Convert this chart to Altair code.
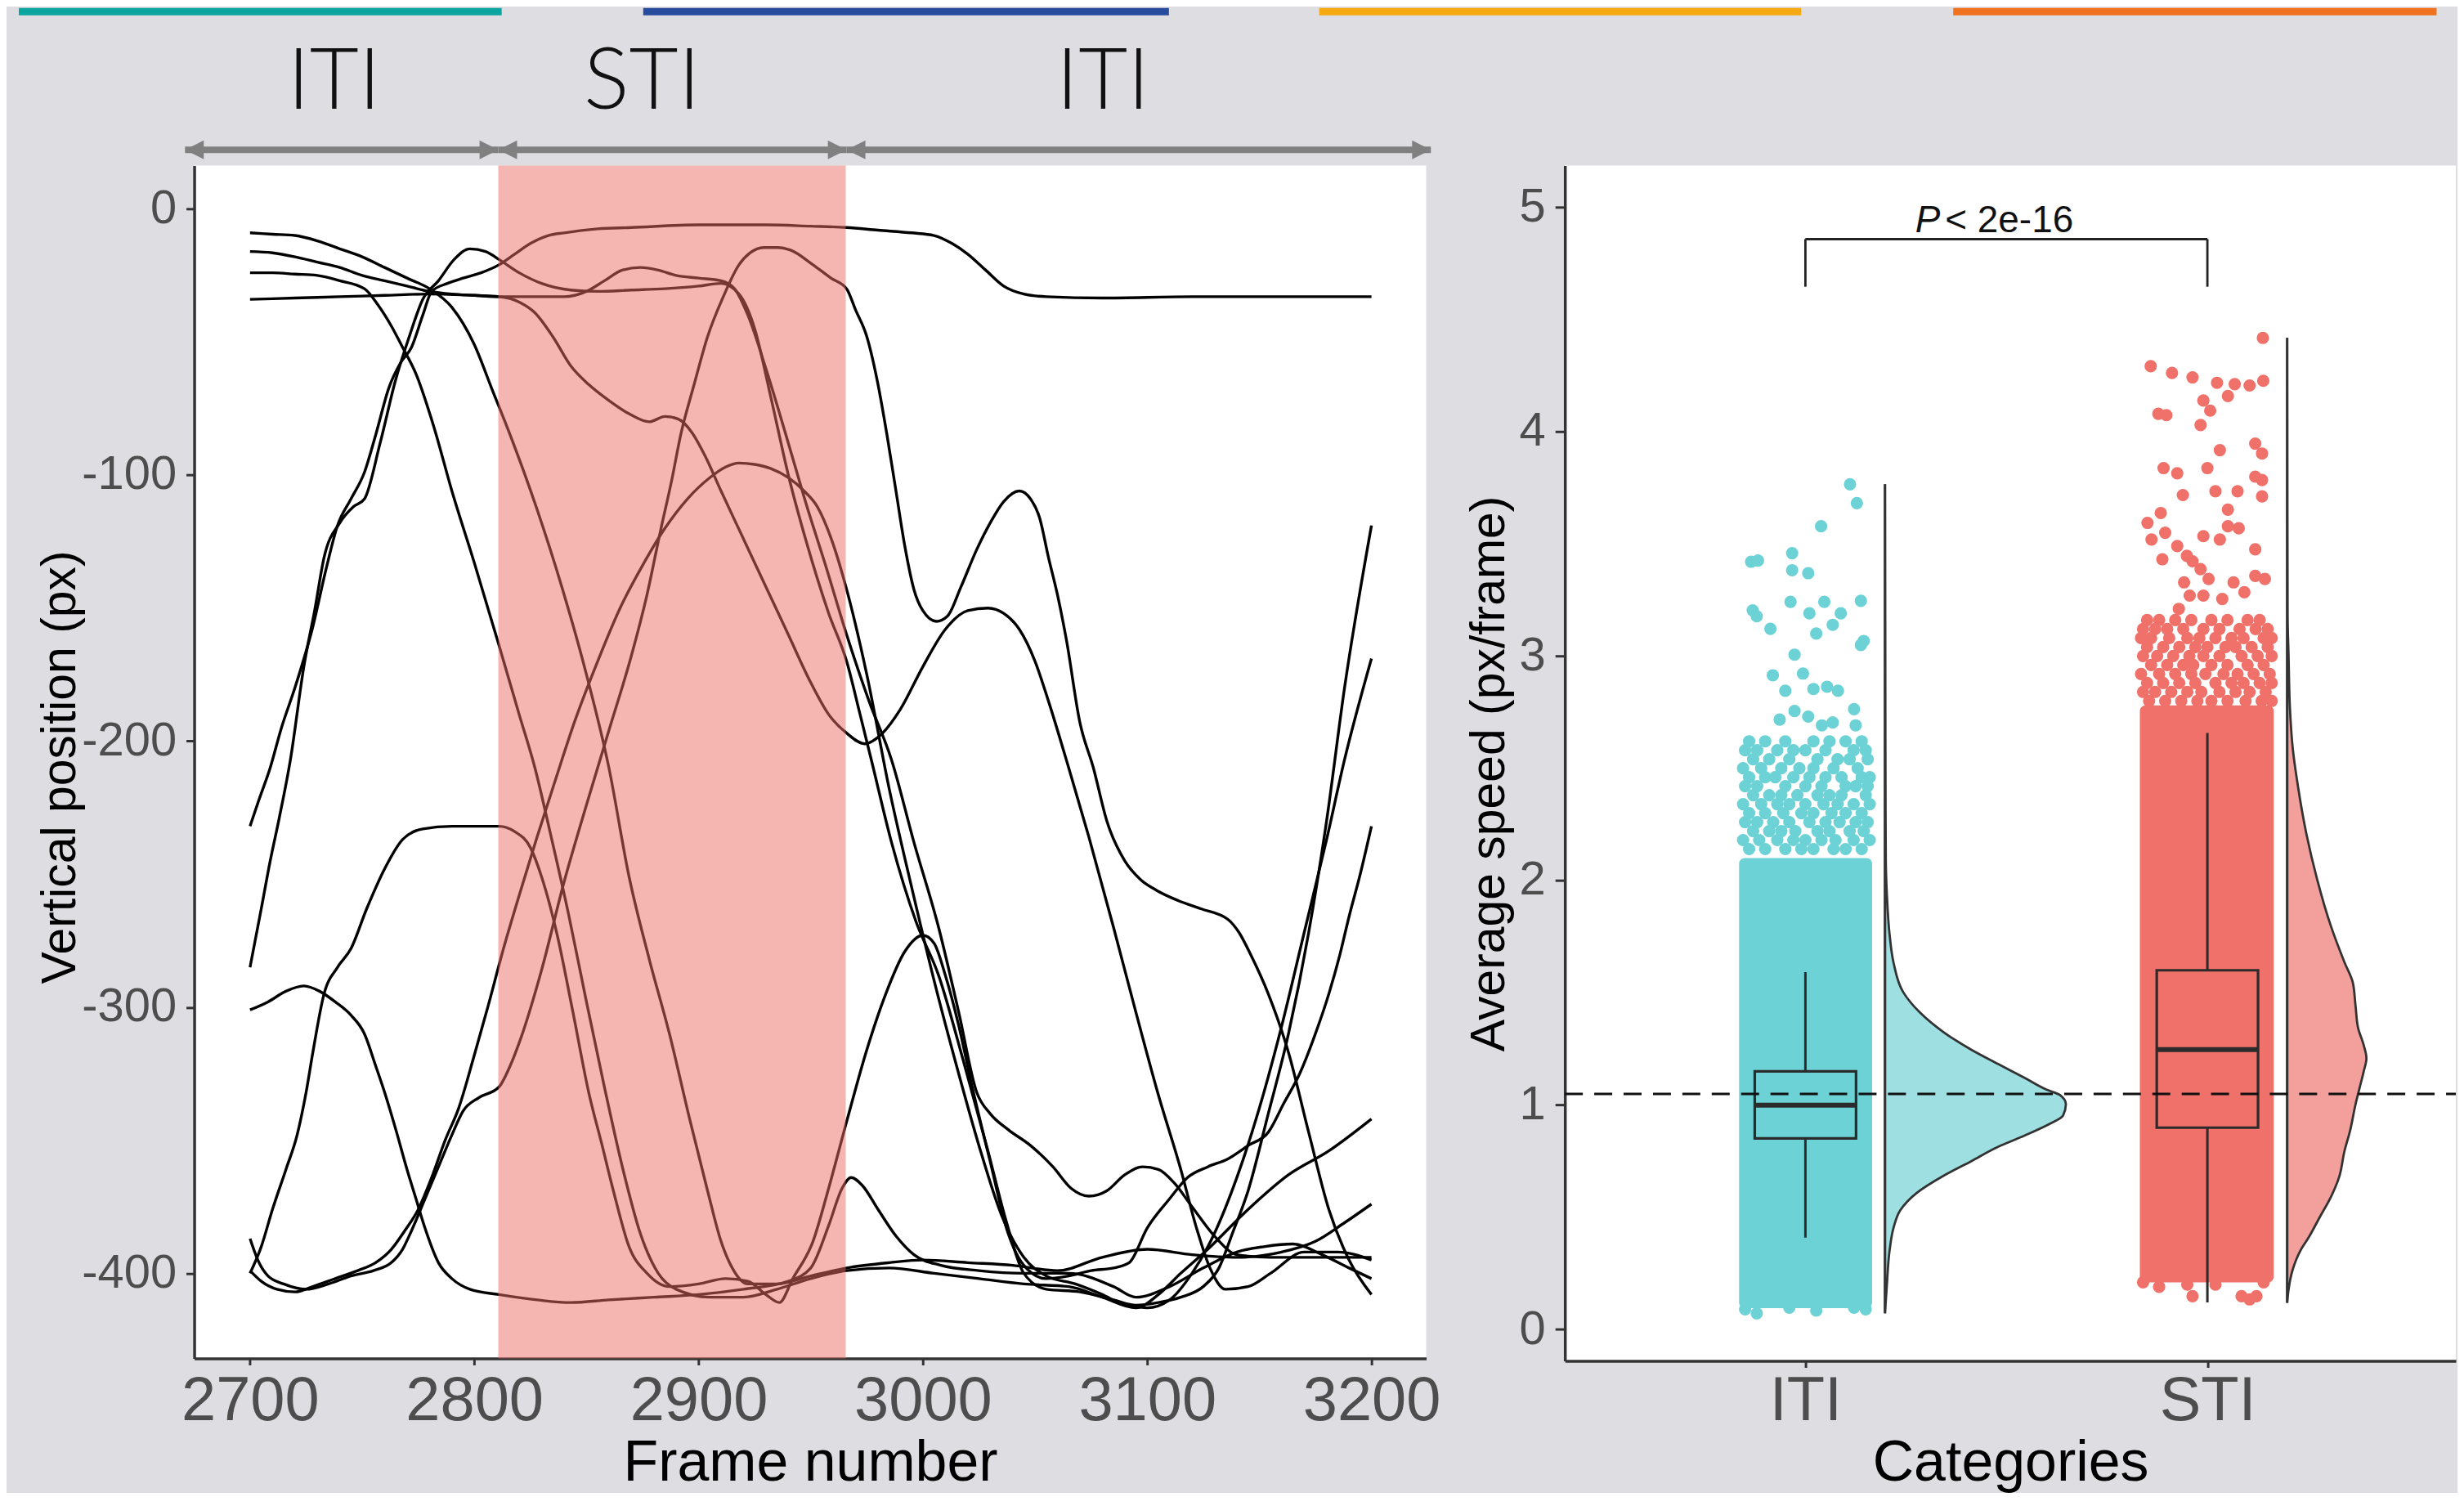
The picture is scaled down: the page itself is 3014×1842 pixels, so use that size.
import altair as alt
import pandas as pd

FONT = "Liberation Sans"
NARROW = "Liberation Sans Narrow, Liberation Sans"

# ---------------- Left panel: trajectories (frame, vertical position px) ----------------
TRAJ_A = [(2700,-9),(2710,-9.5),(2720,-10),(2730,-12),(2740,-15),(2750,-18),(2760,-22),(2770,-26),
          (2780,-30),(2790,-37),(2800,-51),(2808,-68),(2816,-85),(2828,-113),(2839,-142),(2850,-175),
          (2860,-210),(2869,-251),(2878,-282),(2887,-310),(2896,-342),(2904,-369),(2910,-388),(2915,-398),
          (2922,-404),(2935,-404),(2950,-401),(2966,-398),(2985,-396),(3000,-395),(3020,-396),(3040,-397),
          (3060,-399),(3080,-394),(3100,-391),(3120,-393),(3140,-394),(3160,-392),(3175,-388),(3188,-381),
          (3200,-374)]
TRAJ_B = [(2700,-16),(2710,-16.5),(2720,-18),(2730,-20),(2740,-22),(2750,-25),(2760,-27),(2770,-29),
          (2780,-31),(2790,-32),(2800,-32.5),(2811,-33),(2820,-35),(2827,-39),(2835,-48),(2843,-59),
          (2851,-66),(2860,-72),(2869,-77),(2878,-80),(2885,-78),(2891,-79),(2897,-84),(2903,-93),
          (2910,-106),(2920,-124),(2930,-142),(2940,-160),(2950,-178),(2958,-190),(2966,-197),(2974,-201),
          (2982,-197),(2990,-188),(3000,-172),(3010,-158),(3020,-151),(3029,-150),(3036,-152),(3043,-158),
          (3050,-170),(3056,-185),(3065,-210),(3074,-236),(3085,-270),(3095,-302),(3105,-333),(3115,-361),
          (3122,-383),(3128,-398),(3135,-406),(3145,-405),(3155,-400),(3170,-392),(3185,-392),(3200,-395)]
TRAJ_C = [(2700,-24),(2710,-24),(2720,-24.5),(2730,-25),(2740,-27),(2751,-30),(2757,-36),(2763,-44),
          (2768,-52),(2774,-62),(2782,-82),(2790,-106),(2800,-133),(2811,-164),(2820,-190),(2827,-210),
          (2834,-235),(2842,-265),(2850,-298),(2858,-330),(2866,-360),(2874,-385),(2882,-400),(2890,-406),
          (2905,-409),(2920,-409),(2935,-406),(2950,-402),(2966,-399),(2985,-398),(3005,-400),(3025,-402),
          (3045,-404),(3065,-405),(3080,-409),(3095,-413),(3105,-408),(3115,-400),(3127,-391),(3145,-376),
          (3163,-363),(3181,-354),(3200,-342)]
TRAJ_D = [(2700,-34),(2720,-33.5),(2740,-33),(2760,-32.5),(2780,-32),(2800,-32.5),(2811,-33),(2825,-33),
          (2840,-33),(2850,-31),(2858,-27),(2866,-23),(2874,-22),(2882,-23),(2890,-25),(2900,-26),
          (2910,-27),(2916,-30),(2922,-40),(2930,-60),(2940,-88),(2948,-111),(2957,-135),(2966,-160),
          (2976,-185),(2986,-207),(2996,-238),(3007,-270),(3016,-302),(3024,-332),(3030,-340),(3038,-346),
          (3048,-352),(3058,-360),(3066,-368),(3074,-371),(3082,-369),(3090,-363),(3098,-360),(3105,-361),
          (3112,-366),(3120,-375),(3130,-386),(3140,-393),(3155,-394),(3170,-394),(3185,-394),(3200,-394)]
TRAJ_E = [(2700,-232),(2704,-222),(2709,-210),(2714,-195),(2720,-180),(2728,-157),(2734,-135),(2739,-119),
          (2745,-109),(2751,-99),(2756,-85),(2762,-67),(2767,-58),(2772,-52),(2777,-40),(2781,-31),
          (2788,-28),(2795,-26),(2803,-24),(2811,-21),(2818,-17),(2825,-13),(2833,-10),(2840,-9),
          (2855,-7.5),(2870,-7),(2900,-6),(2930,-6),(2950,-6.5),(2966,-7),(2980,-8),(2995,-9),(3005,-10),
          (3013,-13),(3020,-17),(3028,-23),(3036,-29),(3045,-32),(3055,-33),(3080,-33.5),(3120,-33),
          (3160,-33),(3200,-33)]
TRAJ_F = [(2700,-285),(2705,-263),(2709,-245),(2713,-229),(2718,-207),(2724,-172),(2729,-150),(2733,-131),
          (2740,-118),(2746,-112),(2751,-109),(2758,-88),(2765,-64),(2771,-48),(2777,-34),(2784,-27),
          (2791,-19),(2798,-15),(2805,-16),(2811,-19),(2820,-24),(2830,-28),(2843,-30.5),(2855,-31),
          (2870,-30.5),(2885,-30),(2900,-29),(2910,-28),(2918,-32),(2925,-45),(2932,-70),(2940,-100),
          (2948,-125),(2958,-152),(2966,-170),(2972,-190),(2977,-207),(2986,-238),(2997,-268),(3007,-288),
          (3018,-320),(3029,-354),(3037,-380),(3045,-400),(3055,-406),(3070,-407),(3085,-410),(3095,-412),
          (3105,-411),(3115,-409),(3125,-405),(3132,-398),(3138,-385),(3145,-369),(3154,-340),(3163,-310),
          (3172,-272),(3180,-230),(3188,-180),(3200,-119)]
TRAJ_G = [(2700,-301),(2708,-298),(2716,-294),(2724,-292),(2731,-294),(2738,-298),(2745,-303),(2751,-310),
          (2756,-322),(2760,-332),(2765,-346),(2770,-361),(2774,-372),(2778,-383),(2784,-396),(2790,-402),
          (2798,-406),(2811,-408),(2828,-410),(2843,-411),(2860,-410),(2880,-409),(2900,-408),(2920,-406),
          (2940,-403),(2950,-398),(2958,-382),(2964,-368),(2968,-364),(2973,-367),(2980,-376),(2988,-386),
          (2996,-393),(3008,-397),(3025,-399),(3045,-400),(3065,-400),(3085,-405),(3095,-409),(3110,-405),
          (3125,-398),(3140,-392),(3152,-390),(3165,-389),(3178,-393),(3190,-398),(3200,-402)]
TRAJ_H = [(2700,-387),(2704,-396),(2708,-401),(2715,-404),(2725,-406),(2735,-404),(2745,-401),(2755,-399),
          (2763,-396),(2768,-391),(2772,-384),(2778,-372),(2785,-358),(2790,-348),(2795,-339),(2802,-334),
          (2811,-330),(2816,-322),(2821,-311),(2830,-286),(2840,-253),(2850,-224),(2860,-196),(2870,-168),
          (2877,-145),(2883,-121),(2888,-102),(2892,-85),(2898,-66),(2904,-48),(2911,-33),(2918,-21),
          (2923,-16.5),(2929,-14.5),(2935,-14.5),(2941,-15.5),(2951,-21),(2959,-26),(2966,-30),(2970,-38),
          (2975,-48),(2980,-66),(2984,-85),(2988,-106),(2992,-127),(2996,-143),(3000,-151),(3006,-155),
          (3011,-153),(3017,-142),(3024,-128),(3030,-118),(3036,-110),(3043,-106),(3048,-109),(3052,-116),
          (3056,-131),(3060,-145),(3064,-162),(3070,-193),(3076,-210),(3082,-230),(3090,-245),(3097,-252),
          (3104,-256),(3114,-260),(3124,-263),(3136,-267),(3141,-272),(3146,-280),(3154,-295),(3163,-317),
          (3172,-347),(3181,-376),(3190,-395),(3200,-408)]
TRAJ_I = [(2700,-399),(2705,-403),(2712,-406),(2720,-407),(2728,-405),(2738,-402),(2748,-399),(2756,-396),
          (2763,-391),(2769,-384),(2775,-376),(2781,-364),(2787,-350),(2793,-338),(2800,-318),(2806,-300),
          (2813,-278),(2820,-258),(2828,-236),(2836,-215),(2845,-192),(2855,-170),(2865,-150),(2875,-134),
          (2885,-120),(2895,-109),(2905,-101),(2912,-97),(2918,-95.5),(2925,-96),(2932,-97.5),(2940,-101),
          (2947,-106),(2953,-112),(2960,-126),(2966,-143),(2975,-175),(2985,-218),(2995,-255),(3005,-290),
          (3015,-322),(3025,-352),(3035,-378),(3045,-394),(3055,-401),(3068,-404),(3080,-408),(3090,-412),
          (3100,-413),(3110,-410),(3120,-400),(3130,-385),(3140,-364),(3150,-338),(3160,-307),(3170,-272),
          (3180,-237),(3188,-207),(3200,-169)]
TRAJ_J = [(2700,-400),(2705,-390),(2710,-376),(2716,-361),(2721,-348),(2725,-332),(2728,-317),(2733,-295),
          (2739,-285),(2745,-278),(2752,-263),(2760,-248),(2768,-237),(2777,-233),(2790,-232),(2800,-232),
          (2811,-232),(2818,-234),(2825,-240),(2830,-251),(2837,-273),(2844,-302),(2851,-332),(2857,-352),
          (2862,-369),(2869,-390),(2877,-400),(2887,-405),(2900,-404),(2912,-402),(2922,-403),(2930,-408),
          (2936,-411),(2942,-402),(2951,-388),(2958,-368),(2966,-343),(2975,-316),(2983,-296),(2992,-279),
          (3000,-273),(3005,-276),(3010,-288),(3016,-307),(3022,-330),(3030,-358),(3038,-385),(3045,-397),
          (3055,-402),(3065,-401),(3075,-399),(3085,-398),(3092,-396),(3100,-383),(3110,-372),(3118,-364),
          (3127,-360),(3136,-357),(3145,-352),(3154,-347),(3161,-336),(3168,-325),(3175,-310),(3181,-295),
          (3186,-280),(3190,-266),(3195,-250),(3200,-232)]

TRAJECTORIES = {"A": TRAJ_A, "B": TRAJ_B, "C": TRAJ_C, "D": TRAJ_D, "E": TRAJ_E,
                "F": TRAJ_F, "G": TRAJ_G, "H": TRAJ_H, "I": TRAJ_I, "J": TRAJ_J}

STI_WINDOW = [2810.7, 2965.6]
FRAME_DOMAIN = [2675.1, 3224.4]
POS_DOMAIN = [-432.0, 16.31]
FRAME_TICKS = [2700, 2800, 2900, 3000, 3100, 3200]
POS_TICKS = [-400, -300, -200, -100, 0]

HEADER_LABELS = ["ITI", "STI", "ITI"]
HEADER_LABEL_FRAMES = [2737.5, 2874.8, 3080.3]
HEADER_LABEL_LEVEL = 37.6
ARROW_STARTS = [2671.0, 2810.7, 2966.0]
ARROW_ENDS = [2810.7, 2966.0, 3226.5]
ARROW_LEVEL = 22.2
BAR_STARTS = [2596.9, 2875.3, 3176.7, 3459.4]
BAR_ENDS = [2812.2, 3109.7, 3391.6, 3674.9]
BAR_LEVELS = [72.73, 75.49]
BAR_COLORS = ["#0BA59F", "#284C9D", "#F6A911", "#F0721E"]

# ---------------- Right panel: speed by category ----------------
CATEGORIES = ["ITI", "STI"]
CAT_POS = [1, 2]
CAT_COLORS = ["#6CD2D5", "#EF716A"]
VIOLIN_COLORS = ["#9EE0E2", "#F3A09C"]
BOX_HALF = 0.126
BOX_Q1 = [0.851, 0.899]
BOX_MED = [0.999, 1.247]
BOX_Q3 = [1.150, 1.600]
WHISK_LO = [0.409, 0.12]
WHISK_HI = [1.592, 2.657]
DENSE_X_LO = [0.835, 1.832]
DENSE_X_HI = [1.166, 2.165]
DENSE_LO = [0.095, 0.21]
DENSE_HI = [2.10, 2.78]
VIOLIN_BASE = [1.198, 2.1985]
VIOLIN_LO = [0.072, 0.119]
VIOLIN_HI = [3.765, 4.417]
MEAN_LEVEL = 1.049
X2_DOMAIN = [0.4017, 2.618]
Y2_DOMAIN = [-0.140, 5.185]
BRACKET_LEVEL = 4.857
BRACKET_LEG_LO = 4.645
PVAL_LEVEL = 4.888
PVAL_SPLIT = [1.3353, 1.3475]

ITI_DENSITY = [(0.072,0),(0.199,0.0047),(0.353,0.0115),(0.455,0.0216),(0.532,0.0384),(0.608,0.0789),
               (0.685,0.146),(0.749,0.214),(0.813,0.281),(0.864,0.348),(0.915,0.409),(0.953,0.443),
               (1.004,0.450),(1.043,0.436),(1.068,0.402),(1.120,0.348),(1.183,0.281),(1.247,0.214),
               (1.324,0.146),(1.414,0.0856),(1.503,0.0452),(1.631,0.0216),(1.758,0.0115),(1.937,0.0047),
               (2.091,0.002),(2.6,0.001),(3.765,0.0)]
STI_DENSITY = [(0.119,0),(0.178,0.0034),(0.266,0.0136),(0.355,0.034),(0.413,0.0544),(0.502,0.0815),
               (0.590,0.1087),(0.678,0.1291),(0.796,0.1427),(0.884,0.1563),(1.002,0.1699),(1.076,0.1801),
               (1.149,0.1903),(1.208,0.1971),(1.267,0.1903),(1.341,0.1767),(1.444,0.1699),(1.547,0.1631),
               (1.635,0.1427),(1.797,0.1087),(2.003,0.0748),(2.209,0.0476),(2.415,0.0272),(2.592,0.0136),
               (2.769,0.0068),(3.004,0.0034),(3.181,0.001),(4.417,0)]

ITI_SPARSE = [(1.111,3.765),(1.128,3.681),(1.039,3.578),(0.865,3.420),(0.882,3.425),(0.967,3.458),
              (0.967,3.382),(1.007,3.369),(0.869,3.203),(0.879,3.177),(0.913,3.121),(0.963,3.241),
              (1.010,3.190),(1.047,3.241),(1.068,3.139),(1.088,3.190),(1.138,3.246),(1.027,3.100),
              (1.138,3.049),(1.145,3.067),(0.973,3.006),(0.919,2.914),(0.994,2.922),(0.950,2.845),
              (1.020,2.853),(1.054,2.863),(1.081,2.845),(0.973,2.755),(1.121,2.763),(0.936,2.717),
              (1.007,2.730),(1.041,2.691),(1.068,2.704),(1.125,2.691)]
ITI_BAND = [(2.62,[0.86,0.90,0.95,1.02,1.06,1.10,1.14]),
            (2.58,[0.85,0.88,0.93,0.97,1.00,1.05,1.12,1.15]),
            (2.54,[0.87,0.91,0.96,1.03,1.08,1.11,1.155]),
            (2.50,[0.845,0.89,0.94,0.985,1.02,1.07,1.13]),
            (2.46,[0.86,0.90,0.925,0.97,1.01,1.05,1.09,1.14,1.16]),
            (2.42,[0.85,0.88,0.95,1.00,1.04,1.10,1.125,1.155]),
            (2.38,[0.87,0.91,0.94,0.98,1.03,1.06,1.09,1.15]),
            (2.34,[0.845,0.89,0.93,0.96,1.00,1.045,1.08,1.12,1.16]),
            (2.30,[0.86,0.90,0.945,0.99,1.02,1.065,1.10,1.14]),
            (2.26,[0.85,0.88,0.92,0.96,1.01,1.05,1.085,1.125,1.155]),
            (2.22,[0.87,0.91,0.94,0.975,1.03,1.06,1.11,1.145]),
            (2.18,[0.845,0.885,0.93,0.97,1.00,1.04,1.075,1.12,1.16]),
            (2.14,[0.86,0.90,0.95,0.99,1.02,1.07,1.10,1.14])]
ITI_EDGE = [(0.879,0.072),(0.960,0.097),(1.027,0.084),(1.121,0.097),(0.85,0.09),(1.15,0.09)]

STI_SPARSE = [(2.138,4.417),(1.859,4.291),(1.912,4.261),(1.963,4.241),(2.024,4.217),(2.068,4.211),
              (2.105,4.205),(2.139,4.226),(1.990,4.138),(2.051,4.158),(2.007,4.093),(1.878,4.079),
              (1.898,4.073),(1.983,4.029),(2.031,3.917),(2.119,3.946),(2.136,3.902),(1.891,3.837),
              (1.925,3.814),(2.000,3.837),(2.119,3.799),(2.136,3.784),(1.939,3.717),(2.020,3.734),
              (2.075,3.734),(2.136,3.711),(2.051,3.652),(1.884,3.637),(1.851,3.593),(1.861,3.519),
              (1.895,3.549),(1.925,3.490),(1.949,3.446),(1.990,3.534),(2.031,3.519),(2.051,3.578),
              (2.078,3.569),(2.119,3.475),(1.888,3.431),(1.963,3.422),(1.983,3.387),(1.942,3.328),
              (2.003,3.343),(2.065,3.328),(2.119,3.357),(2.143,3.343),(1.956,3.269),(1.990,3.269),
              (2.037,3.254),(2.092,3.284),(1.929,3.210)]
STI_BAND = [(3.16,[1.85,1.88,1.92,1.96,2.01,2.05,2.10,2.13]),
            (3.12,[1.84,1.87,1.90,1.94,1.99,2.03,2.08,2.12,2.15]),
            (3.08,[1.835,1.86,1.905,1.95,1.98,2.02,2.06,2.09,2.14,2.16]),
            (3.04,[1.85,1.89,1.93,1.97,2.00,2.045,2.07,2.11,2.15]),
            (3.00,[1.84,1.875,1.915,1.955,1.99,2.03,2.085,2.125,2.16]),
            (2.96,[1.86,1.90,1.94,1.965,2.01,2.05,2.10,2.14]),
            (2.92,[1.835,1.88,1.92,1.96,1.995,2.04,2.075,2.115,2.155]),
            (2.88,[1.85,1.89,1.93,1.97,2.02,2.06,2.09,2.13,2.16]),
            (2.84,[1.84,1.87,1.91,1.95,1.985,2.03,2.07,2.105,2.145]),
            (2.80,[1.855,1.895,1.935,1.975,2.01,2.05,2.095,2.135,2.16])]
STI_EDGE = [(1.963,0.148),(2.085,0.148),(2.105,0.134),(2.122,0.148),(1.84,0.21),(1.88,0.19),
            (1.95,0.20),(2.02,0.20),(2.14,0.21)]

# ---------------- build tables ----------------
line_rows = [{"id": k, "x": f, "y": p} for k, pts in TRAJECTORIES.items() for f, p in pts]
df_lines = pd.DataFrame(line_rows)
df_window = pd.DataFrame({"x": [STI_WINDOW[0]], "x2": [STI_WINDOW[1]],
                          "y": [POS_DOMAIN[0]], "y2": [POS_DOMAIN[1]]})
df_bars = pd.DataFrame({"x": BAR_STARTS, "x2": BAR_ENDS, "y": [BAR_LEVELS[0]] * 4,
                        "y2": [BAR_LEVELS[1]] * 4, "c": BAR_COLORS})
df_hdr = pd.DataFrame({"x": HEADER_LABEL_FRAMES, "y": [HEADER_LABEL_LEVEL] * 3, "t": HEADER_LABELS})
df_arrows = pd.DataFrame({"x": ARROW_STARTS, "x2": ARROW_ENDS, "y": [ARROW_LEVEL] * 3})
df_head_r = pd.DataFrame({"x": ARROW_ENDS, "y": [ARROW_LEVEL] * 3})
df_head_l = pd.DataFrame({"x": ARROW_STARTS, "y": [ARROW_LEVEL] * 3})

xs = alt.Scale(domain=FRAME_DOMAIN, nice=False, zero=False)
ys = alt.Scale(domain=POS_DOMAIN, nice=False, zero=False)
ax_common = dict(grid=False, labelColor="#4D4D4D", tickColor="#333333",
                 domainColor="#333333", domainWidth=3.5, tickWidth=3, titleFont=FONT,
                 titleColor="#000000", titleFontWeight="normal", labelFlush=False, labelOverlap=False)
x_axis_l = alt.Axis(values=FRAME_TICKS, format="d", title="Frame number", labelFont=NARROW,
                    labelFontSize=76, labelPadding=7, tickSize=8, titleFontSize=70, titleY=94, **ax_common)
y_axis_l = alt.Axis(values=POS_TICKS, labelExpr="'' + datum.value", title="Vertical position (px)",
                    labelFont=FONT, labelFontSize=58, labelPadding=12, tickSize=10, titleFontSize=59,
                    titleAngle=270, titleBaseline="bottom", titleAlign="center", titleX=-134, titleY=737,
                    **ax_common)

def LX(f="x"):
    return alt.X(f"{f}:Q", scale=xs, axis=x_axis_l)

def LY(f="y"):
    return alt.Y(f"{f}:Q", scale=ys, axis=y_axis_l)

W1, H1 = 1510, 1462
lines = alt.Chart(df_lines).mark_line(color="#000000", strokeWidth=3.4, interpolate="monotone").encode(
    x=LX(), y=LY(), detail="id:N", order="x:Q")
window = alt.Chart(df_window).mark_rect(color="#EB6E64", opacity=0.5).encode(
    x=LX(), x2="x2:Q", y=LY(), y2="y2:Q")
bars = alt.Chart(df_bars).mark_rect().encode(
    x=LX(), x2="x2:Q", y=LY(), y2="y2:Q", color=alt.Color("c:N", scale=None))
hdr = alt.Chart(df_hdr).mark_text(font="Lato", fontWeight=300, fontSize=104, baseline="alphabetic",
                                  align="center", color="#111111").encode(x=LX(), y=LY(), text="t:N")
arrows = alt.Chart(df_arrows).mark_rule(color="#808080", strokeWidth=8).encode(x=LX(), x2="x2:Q", y=LY())
head_r = alt.Chart(df_head_r).mark_point(shape="M-2,-1L0,0L-2,1Z", size=529, filled=True, opacity=1,
                                         color="#808080", strokeWidth=0).encode(x=LX(), y=LY())
head_l = alt.Chart(df_head_l).mark_point(shape="M2,-1L0,0L2,1Z", size=529, filled=True, opacity=1,
                                         color="#808080", strokeWidth=0).encode(x=LX(), y=LY())
left = alt.layer(lines, window, bars, hdr, arrows, head_r, head_l).properties(
    width=W1, height=H1, view=alt.ViewBackground(fill="white", stroke=None))

# ---- right panel tables
pts = []
for cat, col, sparse, band, edge in [("ITI", CAT_COLORS[0], ITI_SPARSE, ITI_BAND, ITI_EDGE),
                                     ("STI", CAT_COLORS[1], STI_SPARSE, STI_BAND, STI_EDGE)]:
    for x, v in sparse + edge:
        pts.append({"x": x, "y": v, "c": col})
    for v, xs_row in band:
        for x in xs_row:
            pts.append({"x": x, "y": v, "c": col})
df_pts = pd.DataFrame(pts)
df_dense = pd.DataFrame({"x": DENSE_X_LO, "x2": DENSE_X_HI, "y": DENSE_LO, "y2": DENSE_HI, "c": CAT_COLORS})
viol = []
for g, base, dens, col in [("ITI", VIOLIN_BASE[0], ITI_DENSITY, VIOLIN_COLORS[0]),
                           ("STI", VIOLIN_BASE[1], STI_DENSITY, VIOLIN_COLORS[1])]:
    for v, w in sorted(dens):
        viol.append({"g": g, "y": v, "x": base, "x2": base + w, "c": col})
df_viol = pd.DataFrame(viol)
df_vline = pd.DataFrame({"x": VIOLIN_BASE, "y": VIOLIN_LO, "y2": VIOLIN_HI})
df_box = pd.DataFrame({"cx": CAT_POS, "x": [p - BOX_HALF for p in CAT_POS],
                       "x2": [p + BOX_HALF for p in CAT_POS], "q1": BOX_Q1, "q3": BOX_Q3,
                       "med": BOX_MED, "lo": WHISK_LO, "hi": WHISK_HI, "c": CAT_COLORS})
df_mean = pd.DataFrame({"x": [X2_DOMAIN[0]], "x2": [X2_DOMAIN[1]], "y": [MEAN_LEVEL]})
df_br = pd.DataFrame({"x": [CAT_POS[0], CAT_POS[0], CAT_POS[1]],
                      "x2": [CAT_POS[1], CAT_POS[0], CAT_POS[1]],
                      "y": [BRACKET_LEVEL, BRACKET_LEG_LO, BRACKET_LEG_LO],
                      "y2": [BRACKET_LEVEL, BRACKET_LEVEL, BRACKET_LEVEL]})
df_p1 = pd.DataFrame({"x": [PVAL_SPLIT[0]], "y": [PVAL_LEVEL], "t": ["P"]})
df_p2 = pd.DataFrame({"x": [PVAL_SPLIT[1]], "y": [PVAL_LEVEL], "t": ["< 2e-16"]})

xs2 = alt.Scale(domain=X2_DOMAIN, nice=False, zero=False)
ys2 = alt.Scale(domain=Y2_DOMAIN, nice=False, zero=False)
x_axis_r = alt.Axis(values=CAT_POS, labelExpr="datum.value == 1 ? 'ITI' : 'STI'", title="Categories",
                    labelFont=NARROW, labelFontSize=76, labelPadding=4, tickSize=8, titleFontSize=70,
                    titleY=91, **ax_common)
y_axis_r = alt.Axis(values=[0, 1, 2, 3, 4, 5], format="d", title="Average speed (px/frame)",
                    labelFont=FONT, labelFontSize=58, labelPadding=12, tickSize=12, titleFontSize=59,
                    titleAngle=270, titleBaseline="bottom", titleAlign="center", titleX=-63, titleY=745,
                    **ax_common)

def RX(f="x"):
    return alt.X(f"{f}:Q", scale=xs2, axis=x_axis_r)

def RY(f="y"):
    return alt.Y(f"{f}:Q", scale=ys2, axis=y_axis_r)

W2, H2 = 1092, 1465
dense = alt.Chart(df_dense).mark_rect(cornerRadius=7).encode(
    x=RX(), x2="x2:Q", y=RY(), y2="y2:Q", color=alt.Color("c:N", scale=None))
points = alt.Chart(df_pts).mark_circle(size=230, opacity=1).encode(
    x=RX(), y=RY(), color=alt.Color("c:N", scale=None))
violins = alt.Chart(df_viol).mark_area(orient="horizontal", interpolate="monotone", stroke="#333333",
                                       strokeWidth=2.8, opacity=1).encode(
    y=RY(), x=RX(), x2="x2:Q", fill=alt.Fill("c:N", scale=None), detail="g:N")
vlines = alt.Chart(df_vline).mark_rule(color="#333333", strokeWidth=2.8).encode(x=RX(), y=RY(), y2="y2:Q")
whisk = alt.Chart(df_box).mark_rule(color="#2B2B2B", strokeWidth=3).encode(x=RX("cx"), y=RY("lo"), y2="hi:Q")
boxes = alt.Chart(df_box).mark_rect(stroke="#2B2B2B", strokeWidth=3.2).encode(
    x=RX(), x2="x2:Q", y=RY("q1"), y2="q3:Q", color=alt.Color("c:N", scale=None))
meds = alt.Chart(df_box).mark_rule(color="#2B2B2B", strokeWidth=6).encode(x=RX(), x2="x2:Q", y=RY("med"))
mean_line = alt.Chart(df_mean).mark_rule(color="#111111", strokeWidth=3, strokeDash=[22, 14]).encode(
    x=RX(), x2="x2:Q", y=RY())
bracket = alt.Chart(df_br).mark_rule(color="#222222", strokeWidth=2.8).encode(
    x=RX(), x2="x2:Q", y=RY(), y2="y2:Q")
p1 = alt.Chart(df_p1).mark_text(font=FONT, fontSize=46, fontStyle="italic", align="right",
                                baseline="alphabetic", color="#111111").encode(x=RX(), y=RY(), text="t:N")
p2 = alt.Chart(df_p2).mark_text(font=FONT, fontSize=46, align="left", baseline="alphabetic",
                                color="#111111").encode(x=RX(), y=RY(), text="t:N")
right = alt.layer(dense, points, violins, vlines, whisk, boxes, meds, mean_line, bracket, p1, p2).properties(
    width=W2, height=H2, view=alt.ViewBackground(fill="white", stroke=None))

chart = alt.hconcat(left, right, spacing=170, bounds="flush").properties(
    background="#DEDDE2", padding={"left": 15, "top": 0, "right": 0, "bottom": 0}
).configure(font=FONT, view=alt.ViewConfig(fill="white", stroke=None))

chart.save("out.html", embed_options={"renderer": "svg", "actions": False})
